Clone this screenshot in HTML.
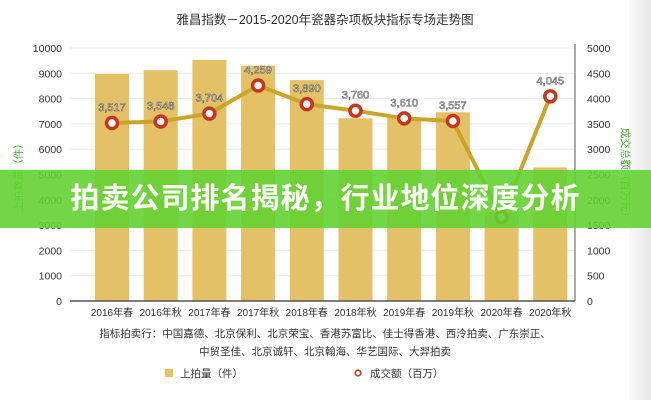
<!DOCTYPE html>
<html><head><meta charset="utf-8"><style>
body{margin:0;background:#fff;width:651px;height:400px;overflow:hidden;font-family:"Liberation Sans","Noto Sans CJK SC",sans-serif;position:relative}
#edge{position:absolute;right:0;top:0;width:22px;height:400px;background:linear-gradient(90deg,#fafafa,#e6e6e6)}
#banner{position:absolute;left:0;top:170px;width:651px;height:58px;background:rgba(100,210,50,0.9);color:#fff;font-weight:bold;font-size:29px;text-align:center;line-height:58px;letter-spacing:1px;font-family:"Liberation Sans","Noto Sans CJK SC",sans-serif}
</style></head><body>
<div id="edge"></div>
<svg id="chart" width="651" height="400" style="position:absolute;left:0;top:0"></svg>
<div id="banner">拍卖公司排名揭秘，行业地位深度分析</div>
<script>
const categories=["2016年春","2016年秋","2017年春","2017年秋","2018年春","2018年秋","2019年春","2019年秋","2020年春","2020年秋"];
const lots=[8980,9120,9530,9300,8730,7220,7250,7460,3500,5280];
const turnover=[3517,3548,3704,4259,3890,3760,3610,3557,1660,4045];
const turnoverLabels=["3,517","3,548","3,704","4,259","3,890","3,760","3,610","3,557","","4,045"];
const leftTicks=[0,1000,2000,3000,4000,5000,6000,7000,8000,9000,10000];
const rightTicks=[0,500,1000,1500,2000,2500,3000,3500,4000,4500,5000];
const NS="http://www.w3.org/2000/svg";
const svg=document.getElementById('chart');
const X0=70,X1=575,Y0=301,Y1=48;
const step=48.7, first=112;
const xc=i=>first+i*step;
const yL=v=>Y0-(v/10000)*(Y0-Y1);
const yR=v=>Y0-(v/5000)*(Y0-Y1);
function mk(tag,attrs,txt){const e=document.createElementNS(NS,tag);for(const k in attrs)e.setAttribute(k,attrs[k]);if(txt!==undefined)e.textContent=txt;svg.appendChild(e);return e;}
let t=mk('text',{x:325,y:24,'text-anchor':'middle','font-size':'12.5',fill:'#333'},'雅昌指数－2015-2020年瓷器杂项板块指标专场走势图');


leftTicks.forEach(v=>{
 const g=mk('line',{x1:X0,x2:X1,y1:yL(v),y2:yL(v),stroke:'#ececec','stroke-width':1});
 
 
 const l=mk('text',{x:62,y:yL(v)+4,'text-anchor':'end','font-size':'10.5',fill:'#333'},String(v));
 
 
});
rightTicks.forEach(v=>{
 const l=mk('text',{x:587,y:yR(v)+4,'font-size':'10.5',fill:'#333'},String(v));
 
 
});
categories.forEach((c,i)=>{
 const b=mk('rect',{x:xc(i)-17,y:yL(lots[i]),width:34,height:Y0-yL(lots[i]),fill:'#e4c066'});
 
 
 const l=mk('text',{x:xc(i),y:316,'text-anchor':'middle','font-size':'10',fill:'#333'},c);
 
 
});
let ax=mk('line',{x1:X0,x2:X1,y1:Y0,y2:Y0,stroke:'#555','stroke-width':1.5});


let ra=mk('line',{x1:X1,x2:X1,y1:Y1-4,y2:Y0,stroke:'#555','stroke-width':1});


let pts=turnover.map((v,i)=>xc(i)+','+yR(v)).join(' ');
let pl=mk('polyline',{points:pts,fill:'none',stroke:'#cda42a','stroke-width':4,'stroke-linejoin':'round'});


turnover.forEach((v,i)=>{
 const c=mk('circle',{cx:xc(i),cy:yR(v),r:5.5,fill:'#fff',stroke:'#c6361d','stroke-width':3.5});
 
 
 if(turnoverLabels[i]){
  const l=mk('text',{x:xc(i),y:yR(v)-12,'text-anchor':'middle','font-size':'11',fill:'#fff',stroke:'#666','stroke-width':0.6},turnoverLabels[i]);
  
  
 }
});
let yt=mk('text',{x:0,y:0,'font-size':'10.5',fill:'#4caa3a',transform:'translate(22,175) rotate(-90)','text-anchor':'middle'},'上拍数量（件）');


let yr=mk('text',{x:0,y:0,'font-size':'10.5',fill:'#4caa3a',transform:'translate(622,175) rotate(90)','text-anchor':'middle'},'成交总额（百万元）');


let n1=mk('text',{x:325,y:337,'text-anchor':'middle','font-size':'10.5',fill:'#333'},'指标拍卖行：中国嘉德、北京保利、北京荣宝、香港苏富比、佳士得香港、西泠拍卖、广东崇正、');


let n2=mk('text',{x:325,y:355,'text-anchor':'middle','font-size':'10.5',fill:'#333'},'中贸圣佳、北京诚轩、北京翰海、华艺国际、大羿拍卖');


let lb=mk('rect',{x:165,y:369,width:8,height:8,fill:'#e4c066'});


let lt=mk('text',{x:180,y:377,'font-size':'10.5',fill:'#333'},'上拍量（件）');


let lc=mk('circle',{cx:358,cy:373,r:2.8,fill:'#fff',stroke:'#c6361d','stroke-width':1.6});


let lt2=mk('text',{x:370,y:377,'font-size':'10.5',fill:'#333'},'成交额（百万）');


</script>
</body></html>
